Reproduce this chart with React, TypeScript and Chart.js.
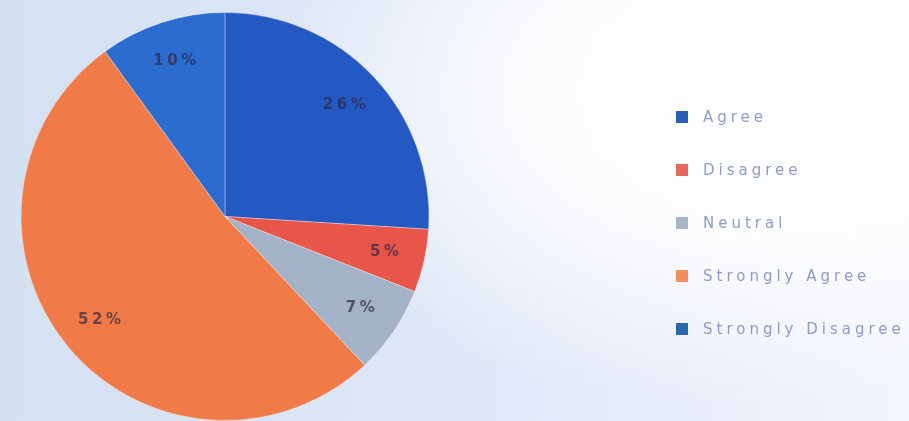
import React, { useEffect, useRef } from "react";
import { Chart, registerables } from "chart.js";

Chart.register(...registerables);

const categories = ["Agree", "Disagree", "Neutral", "Strongly Agree", "Strongly Disagree"];
const percentages = [26, 5, 7, 52, 10];
const percentLabels = ["26%", "5%", "7%", "52%", "10%"];

const sliceColors = ["#2459c4", "#e8564a", "#a3b2c6", "#f07b48", "#2d6ccf"];
const legendMarkerColors = ["#2c5db5", "#e8665c", "#a9b4c6", "#f0905e", "#2b6aa8"];

const overlayPlugin = {
  id: "overlayLabels",
  afterDatasetsDraw(chart: any) {
    const ctx = chart.ctx as CanvasRenderingContext2D;
    const meta = chart.getDatasetMeta(0);
    ctx.save();
    // Percentage labels on slices
    ctx.font = 'bold 15px "DejaVu Sans", sans-serif';
    (ctx as any).letterSpacing = "3.5px";
    ctx.fillStyle = "rgba(45,40,70,0.7)";
    ctx.textAlign = "center";
    ctx.textBaseline = "middle";
    meta.data.forEach((arc: any, i: number) => {
      const p = arc.getProps(["x", "y", "startAngle", "endAngle", "outerRadius"], true);
      const mid = (p.startAngle + p.endAngle) / 2;
      const r = p.outerRadius * 0.8;
      ctx.fillText(percentLabels[i], p.x + Math.cos(mid) * r + 2, p.y + Math.sin(mid) * r);
    });

    // Legend
    const startY = 117;
    const step = 53;
    const markerX = 676;
    const textX = 703;
    ctx.font = '15px "DejaVu Sans", sans-serif';
    (ctx as any).letterSpacing = "4px";
    ctx.textAlign = "left";
    ctx.textBaseline = "middle";
    chart.data.labels.forEach((lab: string, i: number) => {
      const y = startY + i * step;
      ctx.fillStyle = legendMarkerColors[i];
      ctx.fillRect(markerX, y - 6, 12, 12);
      ctx.fillStyle = "rgba(118,136,185,0.82)";
      ctx.fillText(lab, textX, y + 1);
    });
    ctx.restore();
  },
};

export default function App() {
  const ref = useRef<HTMLCanvasElement | null>(null);
  useEffect(() => {
    if (!ref.current) return;
    const chart = new Chart(ref.current, {
      type: "pie",
      data: {
        labels: categories,
        datasets: [
          {
            data: percentages,
            backgroundColor: sliceColors,
            borderWidth: 1,
            borderColor: "rgba(255,255,255,0.35)",
          },
        ],
      },
      options: {
        responsive: false,
        animation: false,
        layout: { padding: { left: 20, right: 479, top: 12, bottom: 0 } },
        plugins: {
          legend: { display: false },
          tooltip: { enabled: false },
        },
      },
      plugins: [overlayPlugin],
    });
    return () => chart.destroy();
  }, []);

  return (
    <div
      style={{
        position: "fixed",
        left: 0,
        top: 0,
        width: 909,
        height: 421,
        background:
          "radial-gradient(ellipse 55% 75% at 82% 22%, rgba(255,255,255,1) 0%, rgba(255,255,255,0.85) 45%, rgba(255,255,255,0) 100%), linear-gradient(to right, #d4e1f2 0%, #dde6f6 45%, #e8edfa 75%, #f3f6fd 100%)",
      }}
    >
      <canvas ref={ref} width={909} height={421} style={{ display: "block" }} />
    </div>
  );
}
